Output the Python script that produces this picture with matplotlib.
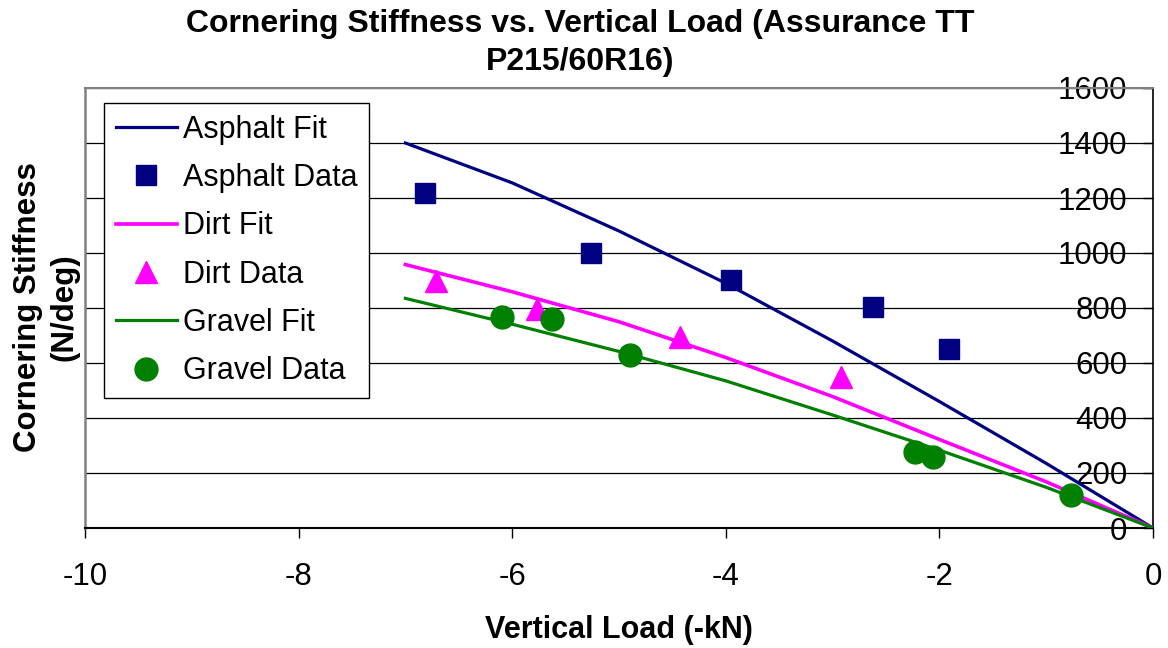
import matplotlib
matplotlib.use("Agg")
import matplotlib.pyplot as plt
from matplotlib import font_manager as fm

plt.rcParams["axes.unicode_minus"] = False

# ---- data ----
fit_x = [-7, -6, -5, -4, -3, -2, -1, 0]
asphalt_fit = [1400, 1255, 1080, 890, 680, 460, 235, 0]
dirt_fit = [958, 859, 750, 620, 478, 322, 168, 0]
gravel_fit = [835, 741, 642, 535, 411, 283, 148, 0]

asphalt_x = [-6.82, -5.26, -3.95, -2.62, -1.91]
asphalt_y = [1218, 1000, 902, 804, 651]
dirt_x = [-6.71, -5.77, -4.43, -2.92]
dirt_y = [898, 795, 696, 550]
gravel_x = [-6.10, -5.63, -4.90, -2.23, -2.06, -0.77]
gravel_y = [766, 759, 628, 278, 257, 120]

x_ticks = [-10, -8, -6, -4, -2, 0]
y_ticks = [0, 200, 400, 600, 800, 1000, 1200, 1400, 1600]

title = "Cornering Stiffness vs. Vertical Load (Assurance TT\nP215/60R16)"
xlabel = "Vertical Load (-kN)"
ylabel = "Cornering Stiffness\n(N/deg)"

# ---- fonts ----
names = {f.name for f in fm.fontManager.ttflist}
narrow = "Liberation Sans Narrow" if "Liberation Sans Narrow" in names else "Liberation Sans"
normal = "Liberation Sans"

fig = plt.figure(figsize=(11.68, 6.48), dpi=100)
ax = fig.add_axes([85/1168, 1-528/648, (1153-85)/1168, (528-88)/648])

navy = "#000080"
mag = "#FF00FF"
grn = "#008000"

ax.plot(fit_x, asphalt_fit, color=navy, lw=2.3, label="Asphalt Fit", zorder=3)
ax.plot(asphalt_x, asphalt_y, ls="none", marker="s", ms=14, color=navy,
        mec=navy, label="Asphalt Data", zorder=4)
ax.plot(fit_x, dirt_fit, color=mag, lw=2.6, label="Dirt Fit", zorder=3)
ax.plot(dirt_x, dirt_y, ls="none", marker="^", ms=16.5, color=mag,
        mec=mag, label="Dirt Data", zorder=4)
ax.plot(fit_x, gravel_fit, color=grn, lw=2.3, label="Gravel Fit", zorder=3)
ax.plot(gravel_x, gravel_y, ls="none", marker="o", ms=16.5, color=grn,
        mec=grn, label="Gravel Data", zorder=4)

ax.set_xlim(-10, 0)
ax.set_ylim(0, 1600)
ax.set_xticks(x_ticks)
ax.set_yticks(y_ticks)
ax.grid(axis="y", color="black", lw=0.9, zorder=1)

# spines
ax.spines["left"].set_position(("data", 0))
ax.spines["left"].set_color("black")
ax.spines["left"].set_linewidth(1.2)
ax.spines["right"].set_visible(False)
ax.spines["top"].set_color("#808080")
ax.spines["top"].set_linewidth(1.5)
ax.spines["bottom"].set_color("black")
ax.spines["bottom"].set_linewidth(1.5)
ax.axvline(-10, color="#808080", lw=1.8, zorder=2, clip_on=False)

ax.tick_params(axis="y", direction="out", length=7.5, width=1, pad=11,
               labelsize=22.5)
ax.tick_params(axis="x", direction="out", length=7.5, width=1, pad=17,
               labelsize=22.5)
for lbl in ax.get_yticklabels():
    lbl.set_fontfamily(normal)
for lbl in ax.get_xticklabels():
    lbl.set_fontfamily(narrow)

fig.text(580/1168, 1-43/648, title, ha="center", va="center",
         fontsize=23, fontweight="bold", family=narrow, linespacing=1.35)
fig.text(619/1168, 1-630/648, xlabel, ha="center", va="center",
         fontsize=22, fontweight="bold", family=narrow)
fig.text(46/1168, 1-307/648, ylabel, ha="center", va="center", rotation=90,
         fontsize=22.5, fontweight="bold", family=normal, linespacing=1.3)

leg = ax.legend(loc="upper left", bbox_to_anchor=(104/1168, 1-103/648),
                bbox_transform=fig.transFigure, borderaxespad=0,
                prop={"family": normal, "size": 22}, frameon=True,
                fancybox=False, framealpha=1, edgecolor="black",
                handlelength=2.0, handletextpad=0.2, labelspacing=0.6,
                borderpad=0.38, numpoints=1)
leg.get_frame().set_linewidth(1.0)
leg.set_zorder(10)

fig.savefig("out.png", dpi=100)
